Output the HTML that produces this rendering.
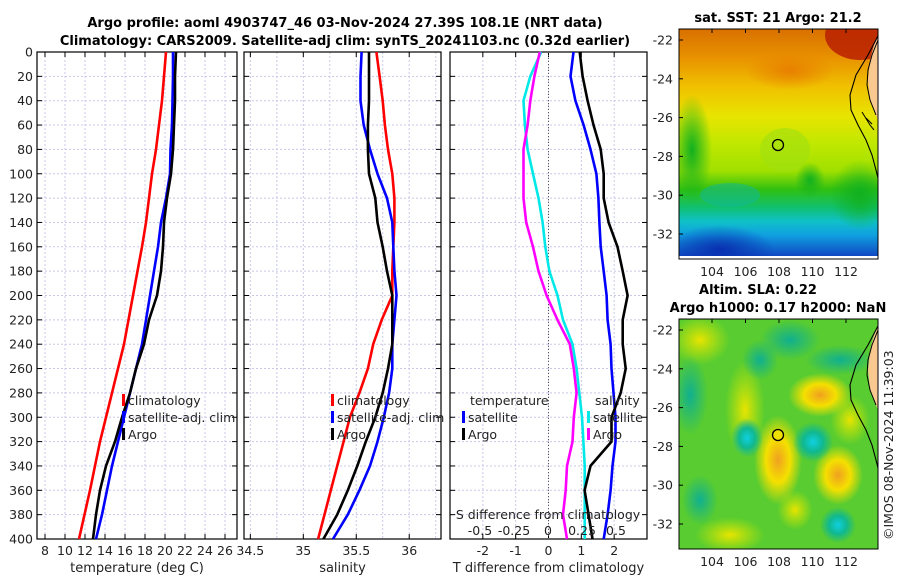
<!DOCTYPE html>
<html><head><meta charset="utf-8">
<style>
html,body{margin:0;padding:0;background:#fff;}
svg{display:block;font-family:"DejaVu Sans","Liberation Sans",sans-serif;}
</style></head>
<body>
<svg id="fig" width="900" height="580" viewBox="0 0 900 580">
<defs>
<linearGradient id="sstbg" x1="0" y1="0" x2="0" y2="1">
<stop offset="0" stop-color="#d87000"/>
<stop offset="0.12" stop-color="#e89000"/>
<stop offset="0.25" stop-color="#f0c000"/>
<stop offset="0.38" stop-color="#e8e400"/>
<stop offset="0.5" stop-color="#c0e800"/>
<stop offset="0.62" stop-color="#a0e000"/>
<stop offset="0.7" stop-color="#30c010"/>
<stop offset="0.78" stop-color="#10c070"/>
<stop offset="0.84" stop-color="#10c0c8"/>
<stop offset="0.9" stop-color="#10a0e0"/>
<stop offset="1" stop-color="#1040c0"/>
</linearGradient>
<radialGradient id="hiblob"><stop offset="0" stop-color="#f0a020"/><stop offset="0.5" stop-color="#f4e000"/><stop offset="1" stop-color="#f4e000" stop-opacity="0"/></radialGradient>
<radialGradient id="yblob"><stop offset="0" stop-color="#e8e400"/><stop offset="1" stop-color="#d0e800" stop-opacity="0"/></radialGradient>
<radialGradient id="loblob"><stop offset="0" stop-color="#10d0e0"/><stop offset="0.5" stop-color="#10b890"/><stop offset="1" stop-color="#10b890" stop-opacity="0"/></radialGradient>
<radialGradient id="mblob"><stop offset="0" stop-color="#10b090"/><stop offset="1" stop-color="#10b090" stop-opacity="0"/></radialGradient>
<radialGradient id="gblob"><stop offset="0" stop-color="#10b020"/><stop offset="1" stop-color="#10b020" stop-opacity="0"/></radialGradient>
<radialGradient id="bblob"><stop offset="0" stop-color="#0830b0"/><stop offset="1" stop-color="#0830b0" stop-opacity="0"/></radialGradient>
<radialGradient id="oblob"><stop offset="0" stop-color="#e88000"/><stop offset="1" stop-color="#e88000" stop-opacity="0"/></radialGradient>
<clipPath id="c1"><rect x="679" y="29" width="199" height="229"/></clipPath>
<clipPath id="c2"><rect x="679" y="319" width="199" height="230"/></clipPath>
</defs>

<text x="345" y="27" text-anchor="middle" font-size="13" font-weight="bold">Argo profile: aoml 4903747_46 03-Nov-2024 27.39S 108.1E (NRT data)</text>
<text x="345" y="45" text-anchor="middle" font-size="13" font-weight="bold">Climatology: CARS2009. Satellite-adj clim: synTS_20241103.nc (0.32d earlier)</text>

<g id="p1"></g>
<g id="p2"></g>
<g id="p3"></g>

<g>
<text x="778" y="22" text-anchor="middle" font-size="13" font-weight="bold">sat. SST: 21 Argo: 21.2</text>
<g clip-path="url(#c1)">
<rect x="679" y="29" width="199" height="229" fill="url(#sstbg)"/>
<ellipse cx="860" cy="35" rx="35" ry="25" fill="#b82000" opacity="0.85"/>
<ellipse cx="790" cy="70" rx="45" ry="20" fill="url(#oblob)"/>
<ellipse cx="692" cy="150" rx="20" ry="55" fill="url(#gblob)"/>
<ellipse cx="785" cy="150" rx="25" ry="22" fill="#a0e010" opacity="0.6"/>
<ellipse cx="860" cy="195" rx="30" ry="35" fill="url(#gblob)"/>
<ellipse cx="810" cy="180" rx="15" ry="18" fill="url(#gblob)"/>
<ellipse cx="730" cy="195" rx="30" ry="12" fill="#10b8a0" opacity="0.5"/>
<ellipse cx="720" cy="250" rx="55" ry="25" fill="url(#bblob)"/>
<path d="M878 36 L874 45 L870 60 L868 80 L870 100 L876 115 L878 120 Z" fill="#f8c890"/>
<path d="M878 36 L868 55 L856 75 L850 95 L851 110 L858 125 L866 140 L872 155 L876 170 L878 178" fill="none" stroke="#000" stroke-width="1.1"/>
<path d="M878 40 L872 55 L868 70 L867 85 L870 100 L876 115" fill="none" stroke="#000" stroke-width="1"/>
<path d="M862 112 L870 125 L874 130 M866 118 L872 124" fill="none" stroke="#000" stroke-width="1"/>
</g>
<rect x="679" y="256" width="199" height="3" fill="#fff"/>
<rect x="679" y="29" width="199" height="230" fill="none" stroke="#000" stroke-width="1"/>
<circle cx="778" cy="145" r="5.5" fill="none" stroke="#000" stroke-width="1.3"/>
<g id="m1ticks"></g>
</g>

<g>
<text x="758" y="294" text-anchor="middle" font-size="13" font-weight="bold">Altim. SLA: 0.22</text>
<text x="778" y="312" text-anchor="middle" font-size="13" font-weight="bold">Argo h1000: 0.17 h2000: NaN</text>
<g clip-path="url(#c2)">
<rect x="679" y="319" width="199" height="230" fill="#58cc30"/>
<ellipse cx="778" cy="460" rx="24" ry="45" fill="url(#hiblob)"/>
<ellipse cx="820" cy="395" rx="32" ry="22" fill="url(#hiblob)"/>
<ellipse cx="838" cy="475" rx="25" ry="30" fill="url(#hiblob)"/>
<ellipse cx="700" cy="340" rx="30" ry="25" fill="url(#yblob)"/>
<ellipse cx="745" cy="410" rx="20" ry="50" fill="url(#yblob)"/>
<ellipse cx="795" cy="510" rx="18" ry="20" fill="url(#yblob)"/>
<ellipse cx="730" cy="535" rx="35" ry="18" fill="url(#yblob)"/>
<ellipse cx="850" cy="420" rx="20" ry="25" fill="url(#yblob)"/>
<ellipse cx="747" cy="438" rx="16" ry="20" fill="url(#loblob)"/>
<ellipse cx="813" cy="442" rx="20" ry="20" fill="url(#loblob)"/>
<ellipse cx="838" cy="525" rx="18" ry="18" fill="url(#loblob)"/>
<ellipse cx="690" cy="395" rx="18" ry="40" fill="url(#mblob)"/>
<ellipse cx="790" cy="340" rx="30" ry="20" fill="url(#mblob)"/>
<ellipse cx="700" cy="500" rx="18" ry="25" fill="url(#mblob)"/>
<ellipse cx="760" cy="360" rx="18" ry="20" fill="url(#mblob)"/>
<ellipse cx="840" cy="360" rx="35" ry="15" fill="url(#mblob)"/>
<path d="M878 326 L874 335 L870 350 L868 370 L870 390 L876 405 L878 410 Z" fill="#f8c890"/>
<path d="M878 326 L868 345 L856 365 L850 385 L851 400 L858 415 L866 430 L872 445 L876 460 L878 468" fill="none" stroke="#000" stroke-width="1.1"/>
<path d="M878 330 L872 345 L868 360 L867 375 L870 390 L876 405" fill="none" stroke="#000" stroke-width="1"/>
</g>
<rect x="679" y="319" width="199" height="230" fill="none" stroke="#000" stroke-width="1"/>
<circle cx="778" cy="435" r="5.5" fill="#f0e000" stroke="#000" stroke-width="1.3"/>
<g id="m2ticks"></g>
<text x="0" y="0" transform="translate(893,540) rotate(-90)" font-size="12.5" fill="#222">©IMOS 08-Nov-2024 11:39:03</text>
</g>
</svg>
<script>
const depths = [0,20,40,60,80,100,120,140,160,180,200,220,240,260,280,300,320,340,360,380,400];
const tempClim = [20.1,19.9,19.7,19.4,19.1,18.7,18.4,18.1,17.7,17.25,16.8,16.35,15.9,15.3,14.7,14.1,13.5,13.0,12.5,11.95,11.4];
const tempSat  = [20.8,20.8,20.75,20.7,20.55,20.5,20.1,19.6,19.3,18.9,18.5,18.1,17.7,17.1,16.5,15.9,15.3,14.7,14.2,13.7,13.1];
const tempArgo = [21.1,21.0,21.0,20.9,20.8,20.6,20.2,19.9,19.8,19.6,19.2,18.4,17.9,17.1,16.5,15.7,15.0,14.1,13.5,13.1,12.8];
const salClim = [35.69,35.72,35.75,35.77,35.80,35.84,35.86,35.86,35.85,35.84,35.84,35.74,35.66,35.61,35.53,35.44,35.38,35.32,35.26,35.20,35.14];
const salSat  = [35.55,35.54,35.54,35.57,35.63,35.70,35.79,35.84,35.85,35.86,35.88,35.86,35.84,35.84,35.81,35.76,35.70,35.63,35.53,35.42,35.28];
const salArgo = [35.62,35.62,35.62,35.61,35.61,35.62,35.68,35.70,35.75,35.79,35.84,35.84,35.84,35.80,35.75,35.68,35.59,35.51,35.42,35.32,35.19];
const tDiffSat  = [0.76,0.67,0.82,1.07,1.28,1.46,1.52,1.55,1.59,1.68,1.77,1.80,1.89,1.92,1.98,2.04,2.04,1.95,1.89,1.80,1.68];
const tDiffArgo = [0.95,1.04,1.19,1.37,1.59,1.68,1.68,1.83,2.10,2.26,2.41,2.26,2.26,2.35,2.20,1.92,1.92,1.28,1.10,1.22,1.34];
const sDiffSat  = [-0.05,-0.13,-0.18,-0.17,-0.15,-0.11,-0.07,-0.04,-0.02,0.01,0.07,0.11,0.18,0.21,0.23,0.25,0.26,0.27,0.27,0.27,0.27];
const sDiffArgo = [-0.06,-0.10,-0.13,-0.15,-0.18,-0.18,-0.18,-0.16,-0.11,-0.07,-0.01,0.07,0.16,0.19,0.21,0.19,0.18,0.14,0.13,0.11,0.14];
const depthTicks = [0,20,40,60,80,100,120,140,160,180,200,220,240,260,280,300,320,340,360,380,400];
const tTicks = [8,10,12,14,16,18,20,22,24,26];
const sTicks = [34.5,35,35.5,36];
const tdTicks = [-2,-1,0,1,2];
const sdTicks = [-0.5,-0.25,0,0.25,0.5];
const lonTicks = [104,106,108,110,112];
const latTicks = [-22,-24,-26,-28,-30,-32];

const NS='http://www.w3.org/2000/svg';
function mk(parent,tag,attrs,text){const e=document.createElementNS(NS,tag);for(const k in attrs)e.setAttribute(k,attrs[k]);if(text!==undefined)e.textContent=text;parent.appendChild(e);return e;}
const Y0=52, Y1=539;
const yScale=d=>Y0+(d/400)*(Y1-Y0);

function panel(g,x0,x1,dmin,dmax,xticks,xgrid,showY,label){
  const xs=v=>x0+(v-dmin)/(dmax-dmin)*(x1-x0);
  xgrid.forEach(v=>{const l=mk(g,'line',{x1:xs(v),x2:xs(v),y1:Y0,y2:Y1,stroke:'#c8c8e8','stroke-width':1,'stroke-dasharray':'2,2'});});
  depthTicks.forEach(d=>{const l=mk(g,'line',{x1:x0,x2:x1,y1:yScale(d),y2:yScale(d),stroke:'#c8c8e8','stroke-width':1,'stroke-dasharray':'2,2'});
    mk(g,'line',{x1:x0,x2:x0+5,y1:yScale(d),y2:yScale(d),stroke:'#000'});mk(g,'line',{x1:x1,x2:x1-5,y1:yScale(d),y2:yScale(d),stroke:'#000'});
    if(showY){const t=mk(g,'text',{x:x0-4,y:yScale(d)+4.5,'text-anchor':'end','font-size':12.5,fill:'#222'},d);}
  });
  xticks.forEach(v=>{mk(g,'line',{x1:xs(v),x2:xs(v),y1:Y1,y2:Y1-5,stroke:'#000'});mk(g,'line',{x1:xs(v),x2:xs(v),y1:Y0,y2:Y0+5,stroke:'#000'});
    const t=mk(g,'text',{x:xs(v),y:Y1+16,'text-anchor':'middle','font-size':12.5,fill:'#222'},v);});
  const r=mk(g,'rect',{x:x0,y:Y0,width:x1-x0,height:Y1-Y0,fill:'none',stroke:'#000','stroke-width':1.2});
  const t=mk(g,'text',{x:(x0+x1)/2,y:Y1+33,'text-anchor':'middle','font-size':13,fill:'#222'},label);
  return xs;
}
function line(g,xs,vals,color,name){
  const d=vals.map((v,i)=>(i?'L':'M')+xs(v).toFixed(1)+' '+yScale(depths[i]).toFixed(1)).join(' ');
  const p=mk(g,'path',{d:d,fill:'none',stroke:color,'stroke-width':2.6,'stroke-linejoin':'round'});
  
  
}
function legend(g,x,y,items){
  items.forEach((it,i)=>{mk(g,'rect',{x:x,y:y+i*17-11,width:3,height:12,fill:it[1]});
    const t=mk(g,'text',{x:x+6,y:y+i*17,'font-size':12.5,fill:'#222'},it[0]);});
}
const g1=document.getElementById('p1');
const xs1=panel(g1,37,237,7.2,27.2,tTicks,tTicks,true,'temperature (deg C)');
line(g1,xs1,tempClim,'#ff0000','temp-climatology-line');
line(g1,xs1,tempSat,'#0000ff','temp-satellite-line');
line(g1,xs1,tempArgo,'#000000','temp-argo-line');
legend(g1,122,405,[['climatology','#ff0000'],['satellite-adj. clim','#0000ff'],['Argo','#000']]);
const g2=document.getElementById('p2');
const xs2=panel(g2,244,441,34.44,36.3,sTicks,[34.5,34.75,35,35.25,35.5,35.75,36,36.25],false,'salinity');
line(g2,xs2,salClim,'#ff0000','sal-climatology-line');
line(g2,xs2,salSat,'#0000ff','sal-satellite-line');
line(g2,xs2,salArgo,'#000000','sal-argo-line');
legend(g2,331,405,[['climatology','#ff0000'],['satellite-adj. clim','#0000ff'],['Argo','#000']]);
const g3=document.getElementById('p3');
const xs3=panel(g3,450,647,-3,3,tdTicks,tdTicks,false,'T difference from climatology');
mk(g3,'line',{x1:xs3(0),x2:xs3(0),y1:Y0,y2:Y1,stroke:'#555','stroke-dasharray':'1,2'});
const sx=v=>548+v*136;
line(g3,sx,sDiffSat,'#00e8e8','sdiff-satellite-line');
line(g3,sx,sDiffArgo,'#ff00ff','sdiff-argo-line');
line(g3,xs3,tDiffSat,'#0000ff','tdiff-satellite-line');
line(g3,xs3,tDiffArgo,'#000000','tdiff-argo-line');
let tt=mk(g3,'text',{x:470,y:405,'font-size':12.5,fill:'#222'},'temperature');
legend(g3,462,422,[['satellite','#0000ff'],['Argo','#000']]);
tt=mk(g3,'text',{x:595,y:405,'font-size':12.5,fill:'#222'},'salinity');
legend(g3,587,422,[['satellite','#00e8e8'],['Argo','#ff00ff']]);
tt=mk(g3,'text',{x:548,y:519,'text-anchor':'middle','font-size':12.5,fill:'#222'},'S difference from climatology');
sdTicks.forEach(v=>{const t=mk(g3,'text',{x:sx(v),y:535,'text-anchor':'middle','font-size':12.5,fill:'#222'},String(v));});
function mapTicks(id,x0,y0,yBottom,yLat22,pxLat){
  const g=document.getElementById(id);
  lonTicks.forEach(v=>{const x=712+(v-104)*16.75;mk(g,'line',{x1:x,x2:x,y1:y0,y2:y0+4,stroke:'#000'});
    const t=mk(g,'text',{x:x,y:yBottom+17,'text-anchor':'middle','font-size':12.5,fill:'#222'},v);});
  latTicks.forEach(v=>{const y=yLat22+(-22-v)*pxLat;mk(g,'line',{x1:x0,x2:x0+4,y1:y,y2:y,stroke:'#000'});
    const t=mk(g,'text',{x:x0-6,y:y+4.5,'text-anchor':'end','font-size':12.5,fill:'#222'},v);});
}
mapTicks('m1ticks',679,29,259,40,19.4);
mapTicks('m2ticks',679,319,549,330,19.4);
</script>
</body></html>
